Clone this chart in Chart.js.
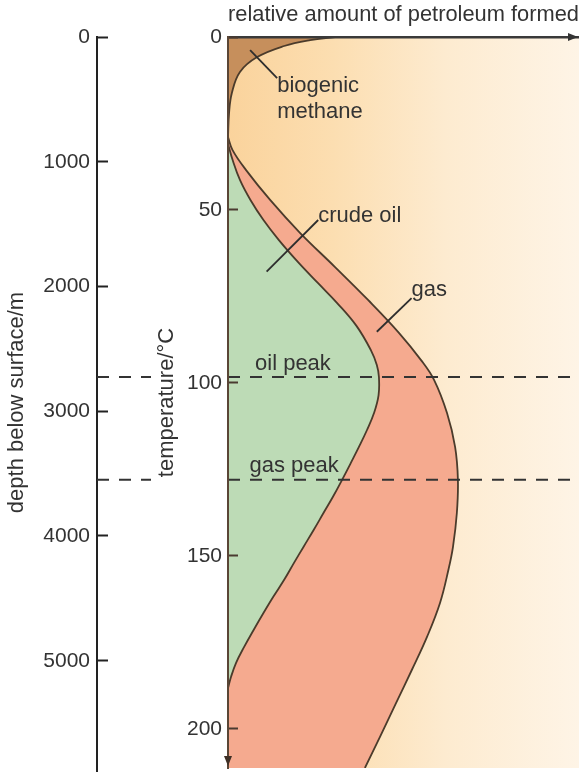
<!DOCTYPE html>
<html>
<head>
<meta charset="utf-8">
<title>Petroleum formation with depth</title>
<script src="https://cdn.jsdelivr.net/npm/chart.js@4.4.1/dist/chart.umd.min.js"></script>
<style>
  html, body { margin: 0; padding: 0; background: #ffffff; }
  canvas { display: block; }
</style>
</head>
<body>
<canvas id="chart" width="579" height="772"></canvas>
<script>
// Temperature (°C) down the section and relative amount formed (0–100) for each product
const methaneTemp   = [0, 0.9, 2.6, 5.8, 10.1, 16.2, 22.0, 28.9];
const methaneAmount = [30.5, 23.4, 16.0, 8.3, 3.4, 1.1, 0.3, 0];

const oilTemp   = [30.9, 35.5, 41.3, 47.1, 52.9, 58.7, 65.0, 71.1, 76.9, 83.5, 90.5, 94.8, 98.3,
                   103.5, 108.7, 113.6, 118.5, 123.1, 128.0, 132.9, 137.6, 142.5, 147.4, 152.0,
                   156.9, 161.8, 166.5, 171.4, 176.3, 180.9, 185.0, 188.2];
const oilAmount = [0, 1.3, 3.4, 6.4, 10.1, 14.5, 19.9, 25.6, 31.1, 36.6, 40.7, 42.4, 43.0,
                   42.9, 41.6, 39.6, 37.3, 35.0, 32.5, 29.9, 27.2, 24.4, 21.5, 18.8,
                   16.0, 12.9, 10.1, 7.3, 4.6, 2.3, 0.85, 0];

const gasTemp   = [28.9, 32.7, 38.4, 47.1, 56.6, 66.5, 76.0, 85.5, 93.4, 99.1, 108.7, 118.5,
                   128.0, 137.6, 147.4, 154.0, 163.6, 173.4, 182.9, 192.5, 202.3, 211.3];
const gasAmount = [0, 1.3, 5.1, 12.0, 20.5, 30.5, 39.9, 48.7, 55.0, 58.7, 62.4, 64.7,
                   65.5, 65.2, 64.1, 62.8, 60.4, 56.7, 52.4, 47.9, 43.3, 39.0];

// Peak generation temperatures (°C)
const oilPeakTemp = 98.3;
const gasPeakTemp = 128.0;

// Axis ticks
const tempTicks  = [0, 50, 100, 150, 200];
const depthTicks = [0, 1000, 2000, 3000, 4000, 5000];
const tempMax  = 211.3;
const depthMax = 5860;

const FONT = "'Liberation Sans', Arial, Helvetica, sans-serif";
const TEXT = '#333333';
const CURVE = '#4b3b2b';

const toPoints = (amounts, temps) => temps.map((t, i) => ({ x: amounts[i], y: t }));
const peakLine = t => [{ x: 0, y: t }, { x: 100, y: t }];

// Callout labels and leader lines, placed in data units (amount, °C)
const callouts = [
  { lines: ['biogenic', 'methane'], at: [14.0, 16.0], lineStep: 7.4, leader: [[6.3, 3.8], [14.0, 11.9]] },
  { lines: ['crude oil'], at: [25.7, 53.4], leader: [[25.7, 52.9], [11.0, 67.8]] },
  { lines: ['gas'], at: [52.3, 75.0], leader: [[52.3, 75.5], [42.4, 85.2]] },
  { lines: ['oil peak'], at: [7.7, 96.4] },
  { lines: ['gas peak'], at: [6.1, 125.6] }
];

const decorations = {
  id: 'decorations',
  beforeDraw(chart) {
    const { ctx, chartArea: a } = chart;
    const g = ctx.createLinearGradient(a.left, 0, a.right, 0);
    g.addColorStop(0, '#fad39c');
    g.addColorStop(0.3, '#fcdeb1');
    g.addColorStop(0.62, '#fdebd0');
    g.addColorStop(1, '#fef4e6');
    ctx.save();
    ctx.fillStyle = g;
    ctx.fillRect(a.left, a.top, a.right - a.left, a.bottom - a.top);
    ctx.restore();
  },
  afterDatasetsDraw(chart) {
    const { ctx } = chart;
    const xs = chart.scales.x, ys = chart.scales.y;
    ctx.save();
    ctx.font = `22px ${FONT}`;
    ctx.fillStyle = TEXT;
    ctx.strokeStyle = '#2e2e2e';
    ctx.lineWidth = 1.8;
    ctx.textAlign = 'left';
    ctx.textBaseline = 'alphabetic';
    for (const c of callouts) {
      if (c.leader) {
        ctx.beginPath();
        ctx.moveTo(xs.getPixelForValue(c.leader[0][0]), ys.getPixelForValue(c.leader[0][1]));
        ctx.lineTo(xs.getPixelForValue(c.leader[1][0]), ys.getPixelForValue(c.leader[1][1]));
        ctx.stroke();
      }
      c.lines.forEach((txt, i) => {
        ctx.fillText(txt, xs.getPixelForValue(c.at[0]), ys.getPixelForValue(c.at[1] + i * (c.lineStep || 0)));
      });
    }
    ctx.restore();
  },
  afterDraw(chart) {
    const { ctx, chartArea: a } = chart;
    const ys = chart.scales.y, ds = chart.scales.depth;
    ctx.save();
    // dashed peak markers beside the depth axis
    ctx.strokeStyle = '#333';
    ctx.lineWidth = 2;
    ctx.setLineDash([12, 10]);
    for (const t of [oilPeakTemp, gasPeakTemp]) {
      const py = ys.getPixelForValue(t);
      ctx.beginPath();
      ctx.moveTo(ds.right, py);
      ctx.lineTo(ds.right + 54, py);
      ctx.stroke();
    }
    ctx.setLineDash([]);
    // depth axis runs on to the foot of the figure
    ctx.strokeStyle = '#222';
    ctx.beginPath();
    ctx.moveTo(ds.right, a.bottom - 2);
    ctx.lineTo(ds.right, chart.height);
    ctx.stroke();
    // arrowheads: amount axis (right) and temperature axis (down)
    ctx.fillStyle = '#333';
    ctx.beginPath();
    ctx.moveTo(a.right - 1, a.top);
    ctx.lineTo(a.right - 11, a.top - 4);
    ctx.lineTo(a.right - 11, a.top + 4);
    ctx.closePath();
    ctx.fill();
    ctx.fillStyle = '#3f3026';
    ctx.beginPath();
    ctx.moveTo(a.left, a.bottom - 2);
    ctx.lineTo(a.left - 4, a.bottom - 12);
    ctx.lineTo(a.left + 4, a.bottom - 12);
    ctx.closePath();
    ctx.fill();
    ctx.restore();
  }
};

Chart.defaults.font.family = FONT;
Chart.defaults.color = TEXT;

const curveStyle = {
  borderColor: CURVE,
  borderWidth: 1.8,
  pointRadius: 0,
  fill: 'origin',
  tension: 0.4
};
const dashStyle = {
  borderColor: '#333',
  borderWidth: 2,
  borderDash: [12, 10],
  pointRadius: 0,
  fill: false,
  order: 0
};

// vertical scales: no extra room reserved above/below for tick labels
const noEdgePadding = s => { s.paddingTop = 0; s.paddingBottom = 0; };

new Chart(document.getElementById('chart'), {
  type: 'line',
  data: {
    datasets: [
      { label: 'oil peak', data: peakLine(oilPeakTemp), ...dashStyle },
      { label: 'gas peak', data: peakLine(gasPeakTemp), ...dashStyle },
      { label: 'biogenic methane', data: toPoints(methaneAmount, methaneTemp), backgroundColor: '#c68f5c', order: 1, ...curveStyle },
      { label: 'crude oil', data: toPoints(oilAmount, oilTemp), backgroundColor: '#bddbb6', order: 2, ...curveStyle },
      { label: 'gas', data: toPoints(gasAmount, gasTemp), backgroundColor: '#f5aa8f', order: 3, ...curveStyle }
    ]
  },
  options: {
    indexAxis: 'y',
    responsive: false,
    animation: false,
    events: [],
    layout: { padding: { left: 0, right: 0, top: 0, bottom: 4 } },
    plugins: { legend: { display: false }, tooltip: { enabled: false } },
    scales: {
      x: {
        type: 'linear',
        position: 'top',
        min: 0,
        max: 100,
        ticks: { display: false },
        grid: { display: false },
        border: { display: true, color: '#3a3a3a', width: 2.5, z: 1 },
        title: {
          display: true,
          text: 'relative amount of petroleum formed',
          align: 'start',
          color: TEXT,
          font: { size: 22.5 },
          padding: { top: 1, bottom: 0 }
        },
        afterFit(s) { s.height = 37; s.paddingLeft = 0; s.paddingRight = 0; }
      },
      y: {
        type: 'linear',
        axis: 'y',
        position: 'left',
        reverse: true,
        min: 0,
        max: tempMax,
        weight: 0,
        afterBuildTicks(s) { s.ticks = tempTicks.map(v => ({ value: v })); },
        afterFit(s) { s.width = 131; noEdgePadding(s); },
        ticks: { color: TEXT, font: { size: 21 }, padding: 16, callback: v => String(v) },
        grid: { drawOnChartArea: false, drawTicks: true, tickLength: -10, tickColor: '#4a3a30', tickWidth: 2, z: 1 },
        border: { display: true, color: '#5a4636', width: 2, z: 1 },
        title: {
          display: true,
          text: 'temperature/°C',
          color: TEXT,
          font: { size: 22 },
          padding: { top: 57, bottom: 0 }
        }
      },
      depth: {
        type: 'linear',
        axis: 'y',
        position: 'left',
        reverse: true,
        min: 0,
        max: depthMax,
        weight: 1,
        afterBuildTicks(s) { s.ticks = depthTicks.map(v => ({ value: v })); },
        afterFit(s) { s.width = 97; noEdgePadding(s); },
        ticks: { color: TEXT, font: { size: 21 }, padding: 18, callback: v => String(v) },
        grid: { drawOnChartArea: false, drawTicks: true, tickLength: -11, tickColor: '#222', tickWidth: 2 },
        border: { display: true, color: '#222', width: 2 },
        title: {
          display: true,
          text: 'depth below surface/m',
          color: TEXT,
          font: { size: 22 },
          padding: { top: 4, bottom: 0 }
        }
      }
    }
  },
  plugins: [decorations]
});
</script>
</body>
</html>
